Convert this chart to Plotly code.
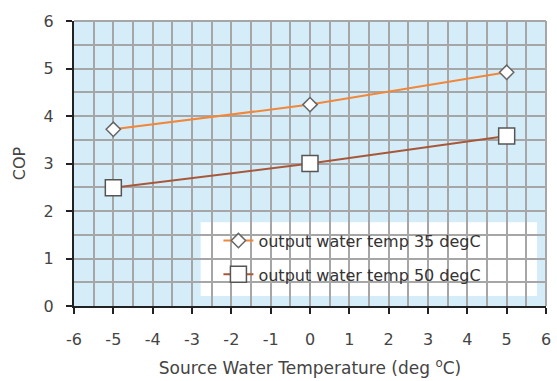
import plotly.graph_objects as go

source_temp = [-5, 0, 5]
cop_35 = [3.72, 4.24, 4.92]
cop_50 = [2.49, 3.0, 3.58]
series_names = ["output water temp 35 degC", "output water temp 50 degC"]
x_ticks = [-6, -5, -4, -3, -2, -1, 0, 1, 2, 3, 4, 5, 6]
y_ticks = [0, 1, 2, 3, 4, 5, 6]

FONT = "DejaVu Sans, Liberation Sans, Arial, sans-serif"
TXT = "#444444"

fig = go.Figure()
fig.add_trace(go.Scatter(
    x=source_temp, y=cop_35, name=series_names[0], mode="lines+markers", legendgroup="a",
    line=dict(color="#f0873a", width=2),
    marker=dict(symbol="diamond", size=11, color="white", line=dict(color="#666666", width=1.5)),
))
fig.add_trace(go.Scatter(
    x=source_temp, y=cop_50, name=series_names[1], mode="lines+markers", legendgroup="b",
    line=dict(color="#a8583a", width=2),
    marker=dict(symbol="square", size=16, color="white", line=dict(color="#555555", width=1.5)),
))

fig.update_layout(
    width=557, height=381,
    margin=dict(l=74, r=6, t=21, b=74),
    paper_bgcolor="white", plot_bgcolor="#d5edf9",
    font=dict(family=FONT, size=16, color=TXT),
    showlegend=True,
    legend=dict(x=0.306, y=0.289, xanchor="left", yanchor="top",
                bgcolor="rgba(0,0,0,0)", borderwidth=0, font=dict(family=FONT, size=16, color="#333333"),
                tracegroupgap=10),
    xaxis=dict(
        range=[-6, 6], tickvals=x_ticks, ticktext=[str(v) for v in x_ticks],
        showgrid=True, gridcolor="#a6a6a6", gridwidth=1.5,
        minor=dict(dtick=0.5, showgrid=True, gridcolor="#a6a6a6", gridwidth=1.5),
        showline=True, linecolor="#222222", linewidth=2, mirror=False,
        ticks="outside", ticklen=6, tickcolor="#222222", tickwidth=1.5,
        ticklabelstandoff=12,
        tickfont=dict(family=FONT, size=16, color=TXT),
        zeroline=False,
        title=dict(text="Source Water Temperature (deg <sup>o</sup>C)", font=dict(family=FONT, size=17, color=TXT), standoff=14),
    ),
    yaxis=dict(
        range=[0, 6], tickvals=y_ticks,
        showgrid=True, gridcolor="#a6a6a6", gridwidth=1.5,
        minor=dict(dtick=0.5, showgrid=True, gridcolor="#a6a6a6", gridwidth=1.5),
        showline=True, linecolor="#222222", linewidth=2,
        ticks="outside", ticklen=6, tickcolor="#222222", tickwidth=1.5,
        ticklabelstandoff=9,
        tickfont=dict(family=FONT, size=16, color=TXT),
        zeroline=False,
        title=dict(text="COP", font=dict(family=FONT, size=16, color=TXT), standoff=14),
    ),
    shapes=[
        dict(type="line", xref="paper", yref="paper", x0=0, x1=1, y0=1, y1=1, line=dict(color="#a6a6a6", width=2)),
        dict(type="line", xref="paper", yref="paper", x0=1, x1=1, y0=0, y1=1, line=dict(color="#a6a6a6", width=2)),
        dict(type="rect", xref="paper", yref="paper", x0=0.2683, x1=0.981, y0=0.035, y1=0.294,
             fillcolor="white", line=dict(width=0), layer="between"),
    ],
)
fig.write_html("out.html")
